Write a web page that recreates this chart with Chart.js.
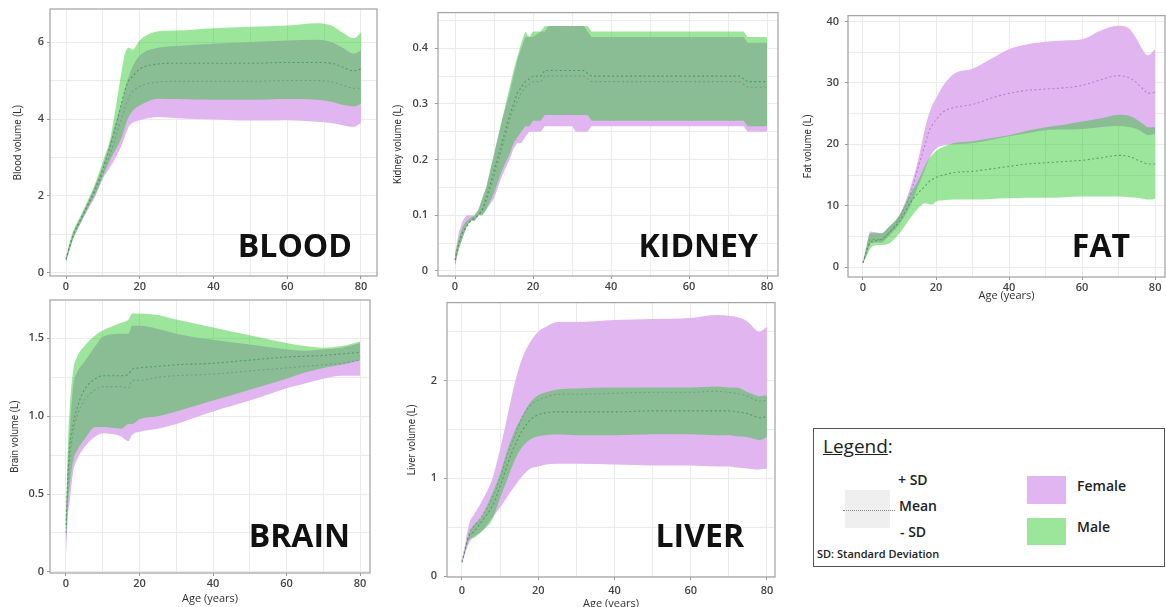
<!DOCTYPE html>
<html>
<head>
<meta charset="utf-8">
<script src="https://cdn.jsdelivr.net/npm/chart.js@4.4.0/dist/chart.umd.min.js"></script>
<style>
  html, body { margin: 0; padding: 0; background: #fff; width: 1166px; height: 607px; overflow: hidden; position: relative; font-family: "Open Sans", sans-serif; }
  canvas { position: absolute; }
  .lg { position: absolute; color: #222; font-family: "Open Sans", sans-serif; white-space: nowrap; line-height: 1; }
</style>
</head>
<body>
<canvas id="blood"></canvas>
<canvas id="kidney"></canvas>
<canvas id="fat"></canvas>
<canvas id="brain"></canvas>
<canvas id="liver"></canvas>

<div class="lg" style="left:813px;top:428px;width:352px;height:139px;border:1px solid #555;box-sizing:border-box;"></div>
<div class="lg" style="left:823px;top:437px;font-size:19px;"><span style="text-decoration:underline;">Legend</span>:</div>
<div class="lg" style="left:845px;top:490px;width:45px;height:38px;background:#efefef;"></div>
<div class="lg" style="left:843px;top:510px;width:52px;height:0;border-top:1px dotted #888;"></div>
<div class="lg" style="left:898px;top:473px;font-size:14px;font-weight:600;">+ SD</div>
<div class="lg" style="left:899px;top:499px;font-size:14px;font-weight:600;">Mean</div>
<div class="lg" style="left:900px;top:525px;font-size:14px;font-weight:600;">- SD</div>
<div class="lg" style="left:817px;top:548px;font-size:11px;font-weight:600;">SD: Standard Deviation</div>
<div class="lg" style="left:1027px;top:476px;width:39px;height:28px;background:rgb(224,181,240);"></div>
<div class="lg" style="left:1077px;top:479px;font-size:14px;font-weight:600;">Female</div>
<div class="lg" style="left:1027px;top:518px;width:39px;height:27px;background:rgb(156,230,156);"></div>
<div class="lg" style="left:1077px;top:520px;font-size:14px;font-weight:600;">Male</div>

<script>
// ---------------- DATA ----------------
// BLOOD (L)
const bloodAges        = [0,1,2,4,6,8,10,12,14,15,16,17,18,20,25,30,40,50,60,68,72,75,78,80];
const bloodMaleUpper   = [0.4,0.8,1.1,1.5,1.9,2.35,2.9,3.5,4.6,5.2,5.7,5.85,5.8,6.05,6.28,6.3,6.36,6.4,6.43,6.49,6.43,6.25,6.1,6.25];
const bloodMaleMean    = [0.35,0.7,1.0,1.4,1.8,2.2,2.7,3.3,4.0,4.4,4.75,5.0,5.1,5.3,5.43,5.45,5.45,5.45,5.47,5.47,5.45,5.35,5.25,5.3];
const bloodMaleLower   = [0.3,0.6,0.9,1.3,1.7,2.05,2.5,2.95,3.3,3.5,3.8,4.05,4.2,4.35,4.53,4.52,4.5,4.5,4.52,4.5,4.45,4.37,4.33,4.4];
const bloodFemaleUpper = [0.4,0.75,1.05,1.45,1.85,2.3,2.8,3.4,4.1,4.4,4.8,5.1,5.35,5.65,5.85,5.9,5.96,6.0,6.04,6.06,6.0,5.85,5.7,5.78];
const bloodFemaleMean  = [0.35,0.68,0.98,1.38,1.75,2.15,2.6,3.1,3.7,4.0,4.3,4.55,4.7,4.85,4.96,4.98,4.98,4.98,5.0,5.0,4.97,4.88,4.8,4.8];
const bloodFemaleLower = [0.3,0.6,0.9,1.3,1.65,2.0,2.45,2.75,3.1,3.3,3.55,3.8,3.9,3.97,4.05,4.02,3.99,3.96,3.97,3.93,3.9,3.84,3.8,3.9];

// KIDNEY (L)
const kidneyAges        = [0,1,2,3,4,5,6,7,8,10,12,14,15,16,17,18,19,20,22,23,24,30,31,33,34,35,36,73,74,75,80];
const kidneyMaleUpper   = [0.03,0.06,0.08,0.09,0.095,0.1,0.11,0.13,0.15,0.21,0.27,0.33,0.36,0.385,0.41,0.43,0.42,0.43,0.43,0.44,0.44,0.44,0.44,0.44,0.44,0.43,0.43,0.43,0.43,0.42,0.42];
const kidneyMaleMean    = [0.02,0.05,0.07,0.08,0.09,0.095,0.1,0.11,0.13,0.18,0.23,0.28,0.3,0.32,0.33,0.34,0.345,0.35,0.35,0.36,0.36,0.36,0.36,0.36,0.355,0.35,0.35,0.35,0.345,0.34,0.34];
const kidneyMaleLower   = [0.01,0.04,0.06,0.08,0.09,0.09,0.1,0.1,0.11,0.14,0.18,0.21,0.23,0.24,0.25,0.26,0.26,0.27,0.27,0.28,0.28,0.28,0.28,0.28,0.28,0.27,0.27,0.27,0.27,0.26,0.26];
const kidneyFemaleUpper = [0.03,0.07,0.09,0.1,0.1,0.1,0.11,0.13,0.15,0.21,0.27,0.32,0.35,0.38,0.4,0.42,0.42,0.42,0.43,0.43,0.44,0.44,0.44,0.44,0.43,0.42,0.42,0.42,0.42,0.41,0.41];
const kidneyFemaleMean  = [0.02,0.05,0.07,0.08,0.09,0.095,0.1,0.11,0.125,0.17,0.22,0.27,0.29,0.305,0.32,0.33,0.335,0.34,0.34,0.35,0.35,0.35,0.35,0.35,0.345,0.34,0.34,0.34,0.335,0.33,0.33];
const kidneyFemaleLower = [0.01,0.04,0.06,0.08,0.09,0.09,0.1,0.1,0.11,0.13,0.17,0.2,0.22,0.23,0.23,0.24,0.25,0.25,0.25,0.26,0.26,0.26,0.25,0.25,0.25,0.26,0.26,0.26,0.26,0.25,0.25];

// FAT (L)
const fatAges        = [0,1,2,3,5,7,10,13,15,17,18,19,20,22,25,30,35,40,45,50,55,60,65,70,73,75,77,78,80];
const fatMaleUpper   = [0.8,3.5,5.5,5.5,5.5,6.5,8.5,12,14,16.5,17.6,18.3,18.9,19.6,20.2,20.5,21,21.5,22.2,22.8,23.2,23.7,24.2,24.8,24.6,24,23.2,22.8,22.8];
const fatMaleMean    = [0.7,2.6,4,4.3,4.5,5.5,7.5,10.5,12,13.2,13.9,14.3,14.6,15,15.4,15.6,16,16.4,16.8,17,17.2,17.4,17.8,18.2,18,17.5,17,16.8,16.8];
const fatMaleLower   = [0.6,1.8,3,3.5,3.6,3.8,5.5,8,9.5,10.4,10.3,10.2,10.7,10.9,11,11,11.1,11.2,11.3,11.3,11.4,11.5,11.5,11.5,11.4,11.3,11.1,11,11.1];
const fatFemaleUpper = [0.8,3.5,5.8,5.7,5.5,6.5,8.5,13,17.2,22.6,24.8,26.4,27.5,29.6,31.5,32.3,33.9,35.5,36.3,36.7,36.9,37.1,38.5,39.3,38.8,37.1,35,34.5,35.5];
const fatFemaleMean  = [0.7,2.8,4.5,4.5,4.5,5.5,8,12,16,20,22,23.2,24,25.3,26,26.5,27.5,28.3,28.8,29,29.2,29.6,30.5,31.2,30.8,30,28.8,28.3,28.5];
const fatFemaleLower = [0.6,2,3.8,4,4,5,7,10,13,16,17.5,18.6,19.3,19.8,20,20.2,20.7,21.3,21.8,22.3,22.4,22.5,22.8,23,22.8,22.5,21.8,21.5,21.7];

// BRAIN (L)
const brainAges        = [0,0.5,1,2,3,5,8,10,15,17,18,20,25,30,40,50,60,65,70,75,80];
const brainMaleUpper   = [0.35,0.8,1.05,1.3,1.38,1.45,1.52,1.55,1.6,1.62,1.66,1.66,1.65,1.62,1.57,1.52,1.47,1.45,1.44,1.45,1.48];
const brainMaleMean    = [0.3,0.62,0.8,0.95,1.05,1.17,1.24,1.26,1.26,1.27,1.3,1.31,1.32,1.33,1.34,1.36,1.38,1.385,1.39,1.4,1.41];
const brainMaleLower   = [0.2,0.42,0.55,0.72,0.78,0.85,0.93,0.93,0.92,0.95,0.95,0.98,1.0,1.03,1.1,1.17,1.24,1.28,1.31,1.33,1.36];
const brainFemaleUpper = [0.3,0.7,0.9,1.2,1.28,1.35,1.45,1.51,1.53,1.53,1.58,1.58,1.56,1.53,1.49,1.46,1.43,1.42,1.43,1.44,1.47];
const brainFemaleMean  = [0.25,0.55,0.72,0.9,1.0,1.1,1.17,1.19,1.19,1.18,1.23,1.23,1.25,1.26,1.27,1.29,1.31,1.32,1.33,1.34,1.36];
const brainFemaleLower = [0.1,0.35,0.45,0.65,0.72,0.8,0.87,0.89,0.87,0.84,0.88,0.9,0.92,0.95,1.03,1.1,1.18,1.21,1.24,1.26,1.26];

// LIVER (L)
const liverAges        = [0,2,3,5,8,10,12,14,16,18,20,22,25,30,40,50,60,67,70,72,75,77,78,80];
const liverMaleUpper   = [0.15,0.45,0.52,0.6,0.85,1.05,1.3,1.5,1.65,1.78,1.85,1.88,1.91,1.92,1.93,1.93,1.93,1.94,1.93,1.93,1.88,1.85,1.84,1.85];
const liverMaleMean    = [0.14,0.42,0.45,0.55,0.72,0.92,1.15,1.35,1.5,1.6,1.65,1.67,1.68,1.68,1.68,1.69,1.69,1.69,1.69,1.68,1.66,1.63,1.62,1.63];
const liverMaleLower   = [0.13,0.38,0.39,0.45,0.58,0.8,1.0,1.2,1.33,1.4,1.43,1.44,1.45,1.44,1.44,1.45,1.45,1.44,1.44,1.43,1.42,1.4,1.39,1.42];
const liverFemaleUpper = [0.15,0.55,0.62,0.75,1.0,1.3,1.65,2.0,2.25,2.4,2.5,2.55,2.6,2.6,2.62,2.63,2.64,2.67,2.66,2.65,2.6,2.52,2.5,2.55];
const liverFemaleMean  = [0.15,0.45,0.5,0.6,0.8,1.0,1.25,1.45,1.64,1.75,1.8,1.83,1.86,1.86,1.87,1.88,1.88,1.89,1.88,1.87,1.84,1.8,1.79,1.8];
const liverFemaleLower = [0.13,0.35,0.4,0.45,0.6,0.7,0.82,0.93,1.03,1.1,1.12,1.14,1.15,1.15,1.14,1.13,1.13,1.12,1.12,1.11,1.1,1.09,1.09,1.1];

// tick labels
const ageTickLabels = [0, 20, 40, 60, 80];

// ---------------- STYLE ----------------
const FEMALE_FILL = 'rgb(224,181,240)';
const MALE_FILL = 'rgba(35,199,35,0.45)';
const MALE_MEAN = 'rgba(55,145,80,0.75)';
const FEMALE_MEAN = 'rgba(175,110,200,0.8)';
const GRID = '#ebebeb';
const TICK_FONT = { family: 'Open Sans', size: 11, weight: '600' };

const framePlugin = {
  id: 'frame',
  afterDraw(chart) {
    const { ctx, chartArea: a } = chart;
    ctx.save();
    ctx.strokeStyle = '#a8a8a8';
    ctx.lineWidth = 1.3;
    ctx.strokeRect(a.left, a.top, a.right - a.left, a.bottom - a.top);
    ctx.restore();
  }
};
const bigLabelPlugin = {
  id: 'bigLabel',
  afterDatasetsDraw(chart, args, opts) {
    const { ctx } = chart;
    ctx.save();
    ctx.font = 'bold 32px "Open Sans"';
    ctx.fillStyle = '#111';
    ctx.textAlign = 'right';
    ctx.textBaseline = 'alphabetic';
    ctx.fillText(opts.text, opts.x, opts.y);
    ctx.restore();
  }
};

function pts(ages, vals) { return ages.map((a, i) => ({ x: a, y: vals[i] })); }

function makeChart(s) {
  const cv = document.getElementById(s.id);
  const L = s.frame.l - s.yw;
  const T = s.frame.t - 10;
  const W = s.frame.r + 5 - L;
  const H = s.frame.b + s.xh - T;
  cv.width = W; cv.height = H;
  cv.style.left = L + 'px'; cv.style.top = T + 'px';
  cv.style.width = W + 'px'; cv.style.height = H + 'px';
  const interp = s.stepped ? {} : { cubicInterpolationMode: 'monotone' };
  const band = (vals, color, fillTarget) => Object.assign({
    data: pts(s.ages, vals), borderColor: 'transparent', borderWidth: 0, pointRadius: 0,
    backgroundColor: color, fill: fillTarget === undefined ? false : fillTarget
  }, interp);
  const mean = (vals, color) => Object.assign({
    data: pts(s.ages, vals), borderColor: color, borderWidth: 1.1, borderDash: [2, 2.5],
    pointRadius: 0, fill: false
  }, interp);
  new Chart(cv, {
    type: 'line',
    data: {
      datasets: [
        mean(s.mM, MALE_MEAN),                 // 0 (top-most)
        band(s.mU, MALE_FILL, 2),              // 1
        band(s.mL, 'transparent'),             // 2
        mean(s.fM, FEMALE_MEAN),               // 3
        band(s.fU, FEMALE_FILL, 5),            // 4
        band(s.fL, 'transparent')              // 5
      ]
    },
    options: {
      responsive: false, animation: false, devicePixelRatio: 1,
      layout: { padding: { left: 0, top: 10, right: 5, bottom: 0 } },
      plugins: { legend: { display: false }, tooltip: { enabled: false },
        bigLabel: { text: s.label, x: s.labelPos[0] - L, y: s.labelPos[1] - T } },
      scales: {
        x: {
          type: 'linear', min: s.xmin, max: s.xmax,
          afterFit: sc => { sc.height = s.xh; },
          border: { display: false },
          grid: { color: GRID, tickLength: 3, tickColor: c => ageTickLabels.includes(c.tick.value) ? '#999' : 'transparent' },
          ticks: { stepSize: 10, includeBounds: false, autoSkip: false, maxRotation: 0, padding: s.xpad,
            color: '#444', font: TICK_FONT,
            callback: v => ageTickLabels.includes(v) ? String(v) : '' },
          title: { display: s.ageTitle, text: 'Age (years)', color: '#333',
            font: { family: 'Open Sans', size: 11 }, padding: { top: 0, bottom: s.ageTitlePad } }
        },
        y: {
          min: s.ymin, max: s.ymax,
          afterFit: sc => { sc.width = s.yw; },
          border: { display: false },
          grid: { color: GRID, tickLength: 3, tickColor: c => s.isMajor(c.tick.value) ? '#999' : 'transparent' },
          ticks: { stepSize: s.ystep, includeBounds: false, autoSkip: false, maxTicksLimit: 100, padding: s.ypad,
            color: '#444', font: TICK_FONT,
            callback: v => s.isMajor(v) ? s.fmt(v) : '' },
          title: { display: true, text: s.ytitle, color: '#333',
            font: { family: 'Roboto', size: 10 }, padding: { top: s.ytitlePad, bottom: 0 } }
        }
      }
    },
    plugins: [framePlugin, bigLabelPlugin]
  });
}

const near = (v, m) => Math.abs(v / m - Math.round(v / m)) < 1e-6;

makeChart({ id: 'blood', ages: bloodAges,
  mU: bloodMaleUpper, mM: bloodMaleMean, mL: bloodMaleLower, fU: bloodFemaleUpper, fM: bloodFemaleMean, fL: bloodFemaleLower,
  frame: { l: 50, t: 9, r: 377, b: 276 }, yw: 50, xh: 22, xmin: -4.34, xmax: 84.34, ymin: -0.08, ymax: 6.86,
  ystep: 1, isMajor: v => near(v, 2), fmt: v => String(Math.round(v)), ytitle: 'Blood volume (L)', ytitlePad: 12,
  xpad: 1, ypad: 3, ageTitle: false, ageTitlePad: 0, label: 'BLOOD', labelPos: [352, 257] });

makeChart({ id: 'kidney', ages: kidneyAges, stepped: true,
  mU: kidneyMaleUpper, mM: kidneyMaleMean, mL: kidneyMaleLower, fU: kidneyFemaleUpper, fM: kidneyFemaleMean, fL: kidneyFemaleLower,
  frame: { l: 438, t: 9, r: 778, b: 276 }, yw: 53, xh: 22, xmin: -4.36, xmax: 82.8, ymin: -0.009, ymax: 0.464,
  ystep: 0.05, isMajor: v => near(v, 0.1), fmt: v => (Math.abs(v) < 1e-9 ? '0' : v.toFixed(1)), ytitle: 'Kidney volume (L)', ytitlePad: 7,
  xpad: 1, ypad: 7, ageTitle: false, ageTitlePad: 0, label: 'KIDNEY', labelPos: [758, 257] });

makeChart({ id: 'fat', ages: fatAges,
  mU: fatMaleUpper, mM: fatMaleMean, mL: fatMaleLower, fU: fatFemaleUpper, fM: fatFemaleMean, fL: fatFemaleLower,
  frame: { l: 848, t: 13, r: 1165, b: 277 }, yw: 53, xh: 30, xmin: -4.1, xmax: 82.7, ymin: -1.61, ymax: 40.97,
  ystep: 5, isMajor: v => near(v, 10), fmt: v => String(Math.round(v)), ytitle: 'Fat volume (L)', ytitlePad: 7,
  xpad: 1, ypad: 6, ageTitle: true, ageTitlePad: 5, label: 'FAT', labelPos: [1130, 257] });

makeChart({ id: 'brain', ages: brainAges,
  mU: brainMaleUpper, mM: brainMaleMean, mL: brainMaleLower, fU: brainFemaleUpper, fM: brainFemaleMean, fL: brainFemaleLower,
  frame: { l: 50, t: 300, r: 370, b: 573 }, yw: 50, xh: 34, xmin: -4.35, xmax: 82.7, ymin: -0.007, ymax: 1.746,
  ystep: 0.25, isMajor: v => near(v, 0.5), fmt: v => (Math.abs(v) < 1e-9 ? '0' : v.toFixed(1)), ytitle: 'Brain volume (L)', ytitlePad: 9,
  xpad: 1, ypad: 3, ageTitle: true, ageTitlePad: 2, label: 'BRAIN', labelPos: [350, 547] });

makeChart({ id: 'liver', ages: liverAges,
  mU: liverMaleUpper, mM: liverMaleMean, mL: liverMaleLower, fU: liverFemaleUpper, fM: liverFemaleMean, fL: liverFemaleLower,
  frame: { l: 447, t: 299, r: 775, b: 577 }, yw: 52, xh: 34, xmin: -3.93, xmax: 82.1, ymin: -0.01, ymax: 2.798,
  ystep: 0.5, isMajor: v => near(v, 1), fmt: v => String(Math.round(v)), ytitle: 'Liver volume (L)', ytitlePad: 11,
  xpad: 4, ypad: 7, ageTitle: true, ageTitlePad: 1, label: 'LIVER', labelPos: [744, 547] });
</script>
</body>
</html>
